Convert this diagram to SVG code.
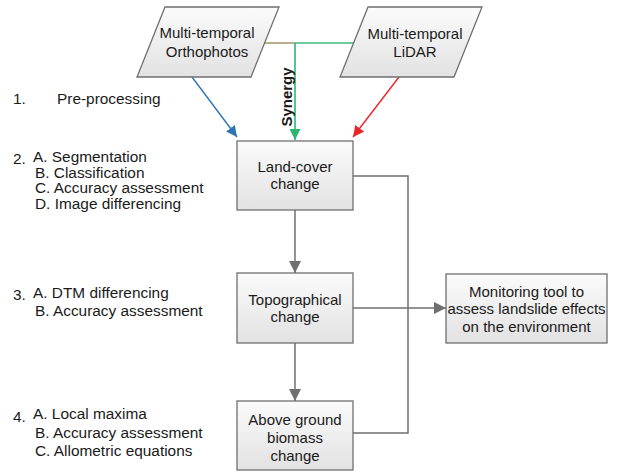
<svg xmlns="http://www.w3.org/2000/svg" width="617" height="472" viewBox="0 0 617 472">
<style>
  text { font-family: "Liberation Sans", Arial, sans-serif; font-size: 15px; fill: #1a1a1a; }
  .c { text-anchor: middle; }
  .s { font-size: 15.4px; }
  .box { fill: url(#g); stroke: #6f6f6f; stroke-width: 1.3; }
  .conn { fill: none; stroke: #6f6f6f; stroke-width: 1.5; }
</style>
<defs>
  <linearGradient id="g" x1="0" y1="0" x2="0" y2="1">
    <stop offset="0" stop-color="#fbfbfb"/>
    <stop offset="1" stop-color="#e2e2e2"/>
  </linearGradient>
  <marker id="ag" markerUnits="userSpaceOnUse" markerWidth="12" markerHeight="12" viewBox="0 0 10 10" refX="10" refY="5" orient="auto">
    <path d="M0,0 L10,5 L0,10 Z" fill="#6f6f6f"/>
  </marker>
  <marker id="ab" markerUnits="userSpaceOnUse" markerWidth="11" markerHeight="11" viewBox="0 0 10 10" refX="10" refY="5" orient="auto">
    <path d="M0,0 L10,5 L0,10 Z" fill="#2e75b6"/>
  </marker>
  <marker id="ar" markerUnits="userSpaceOnUse" markerWidth="11" markerHeight="11" viewBox="0 0 10 10" refX="10" refY="5" orient="auto">
    <path d="M0,0 L10,5 L0,10 Z" fill="#e8262a"/>
  </marker>
  <marker id="an" markerUnits="userSpaceOnUse" markerWidth="11" markerHeight="11" viewBox="0 0 10 10" refX="10" refY="5" orient="auto">
    <path d="M0,0 L10,5 L0,10 Z" fill="#2fb56e"/>
  </marker>
</defs>

<g id="connectors">
  <line x1="192" y1="77" x2="237" y2="137" stroke="#2e75b6" stroke-width="1.4" marker-end="url(#ab)"/>
  <line x1="399" y1="77" x2="353" y2="137" stroke="#e8262a" stroke-width="1.4" marker-end="url(#ar)"/>
  <line x1="264" y1="43" x2="295" y2="43" stroke="#a29c72" stroke-width="1.6"/>
  <line x1="295" y1="43" x2="354" y2="43" stroke="#3cbb7c" stroke-width="1.6"/>
  <line x1="295" y1="43" x2="295" y2="140" stroke="#2fb56e" stroke-width="1.6" marker-end="url(#an)"/>
  <line class="conn" x1="295" y1="210" x2="295" y2="273" marker-end="url(#ag)"/>
  <line class="conn" x1="295" y1="343" x2="295" y2="401" marker-end="url(#ag)"/>
  <polyline class="conn" points="353,176 408,176 408,433 353,433"/>
  <line class="conn" x1="353" y1="308" x2="446" y2="308" marker-end="url(#ag)"/>
  <text transform="translate(292,97) rotate(-90)" class="c" style="font-weight:bold">Synergy</text>
</g>

<g id="orthophotos">
  <polygon class="box" points="165,7 279,7 251,77 137,77"/>
  <text class="c" x="207" y="38">Multi-temporal</text>
  <text class="c" x="207" y="57">Orthophotos</text>
</g>

<g id="lidar">
  <polygon class="box" points="368,7 482,7 454,77 340,77"/>
  <text class="c" x="415" y="39">Multi-temporal</text>
  <text class="c" x="415" y="57">LiDAR</text>
</g>

<g id="landcover">
  <rect class="box" x="237" y="141" width="116" height="69"/>
  <text class="c" x="295" y="172">Land-cover</text>
  <text class="c" x="295" y="189">change</text>
</g>

<g id="topographical">
  <rect class="box" x="237" y="273" width="116" height="70"/>
  <text class="c" x="295" y="305">Topographical</text>
  <text class="c" x="295" y="322">change</text>
</g>

<g id="biomass">
  <rect class="box" x="237" y="401" width="116" height="69"/>
  <text class="c" x="295" y="425">Above ground</text>
  <text class="c" x="295" y="443">biomass</text>
  <text class="c" x="295" y="461">change</text>
</g>

<g id="monitoring">
  <rect class="box" x="446" y="274" width="161" height="69"/>
  <text class="c" x="526.5" y="297">Monitoring tool to</text>
  <text class="c" x="526.5" y="314">assess landslide effects</text>
  <text class="c" x="526.5" y="332">on the environment</text>
</g>

<g id="steps">
  <text class="s" x="13" y="104">1.</text>
  <text class="s" x="57" y="104">Pre-processing</text>

  <text class="s" x="13" y="163.5">2.</text>
  <text class="s" x="33" y="162">A. Segmentation</text>
  <text class="s" x="35" y="177.5">B. Classification</text>
  <text class="s" x="35" y="193">C. Accuracy assessment</text>
  <text class="s" x="35" y="208.5">D. Image differencing</text>

  <text class="s" x="13" y="300">3.</text>
  <text class="s" x="33" y="298">A. DTM differencing</text>
  <text class="s" x="35" y="316">B. Accuracy assessment</text>

  <text class="s" x="13" y="422">4.</text>
  <text class="s" x="33" y="419">A. Local maxima</text>
  <text class="s" x="35" y="438">B. Accuracy assessment</text>
  <text class="s" x="35" y="456">C. Allometric equations</text>
</g>
</svg>
